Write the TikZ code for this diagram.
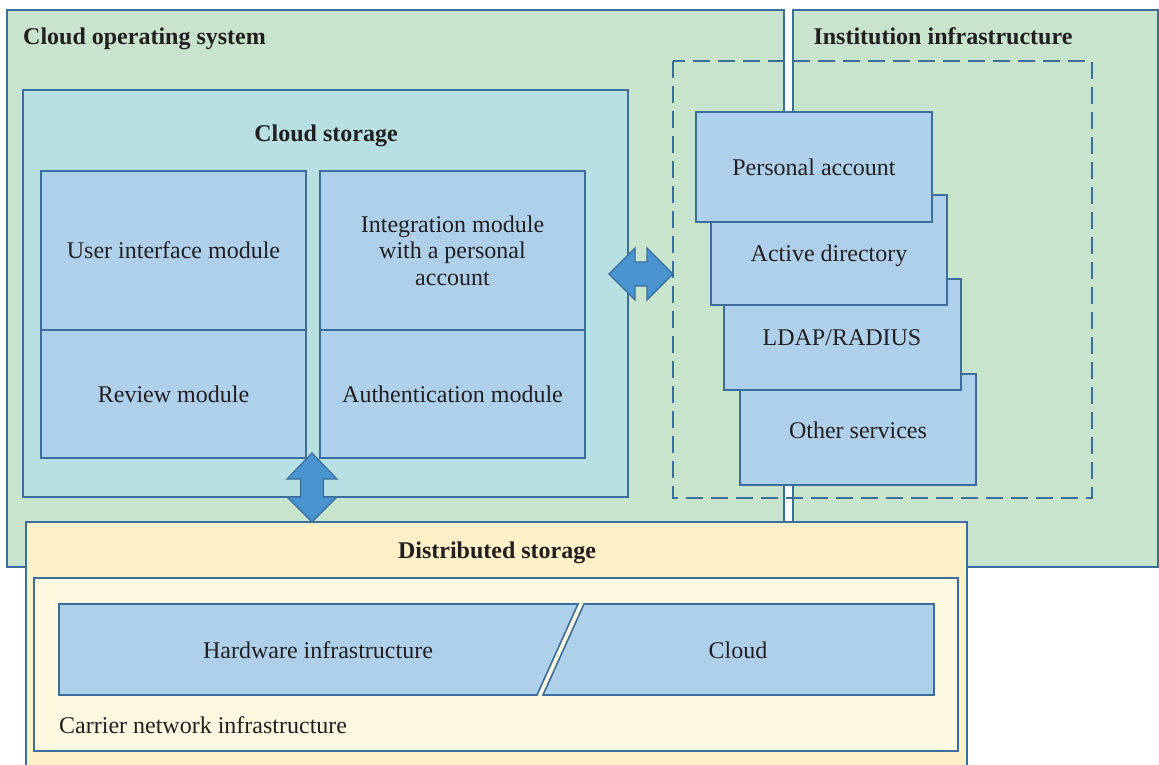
\documentclass[tikz,border=0pt]{standalone}
\usepackage{fontspec}
\setmainfont{Liberation Serif}
\definecolor{bordc}{HTML}{3B6E9C}
\definecolor{greenc}{HTML}{C9E4CD}
\definecolor{cyanc}{HTML}{B8E0E2}
\definecolor{bluec}{HTML}{AFD0EB}
\definecolor{arrc}{HTML}{4A94CF}
\definecolor{yelc}{HTML}{FDF0C6}
\definecolor{creamc}{HTML}{FEF8E1}
\definecolor{txtc}{HTML}{231F20}
\begin{document}
\begin{tikzpicture}[x=1pt,y=-1pt,
  box/.style={draw=bordc, line width=1.6pt, outer sep=0pt, inner sep=0pt, anchor=north west},
  txt/.style={text=txtc, font=\fontsize{24}{26.5}\selectfont, align=center, inner sep=0pt},
  ttl/.style={text=txtc, font=\fontsize{24}{26.5}\selectfont\bfseries, inner sep=0pt},
  dbl/.style={draw=bordc, fill=arrc, line width=1.2pt, line join=miter}]
\useasboundingbox (0,0) rectangle (1159,765);
\clip (0,0) rectangle (1159,765);
\fill[white] (0,0) rectangle (1159,765);
% big regions
\node[box, fill=greenc, minimum width=777pt, minimum height=557pt] (cos) at (7,10) {};
\node[box, fill=greenc, minimum width=365pt, minimum height=557pt] (inst) at (793,10) {};
\node[ttl, anchor=base west] (costitle) at (23,45) {Cloud operating system};
\node[ttl, anchor=base] (insttitle) at (943,45) {Institution infrastructure};
% cloud storage
\node[box, fill=cyanc, minimum width=605pt, minimum height=407pt] (cs) at (23,90) {};
\node[ttl] (cstitle) at (326,136) {Cloud storage};
\node[box, fill=bluec, minimum width=265pt, minimum height=159pt] (ui) at (41,171) {};
\node[box, fill=bluec, minimum width=265pt, minimum height=128pt] (rev) at (41,330) {};
\node[box, fill=bluec, minimum width=265pt, minimum height=159pt] (integ) at (320,171) {};
\node[box, fill=bluec, minimum width=265pt, minimum height=128pt] (auth) at (320,330) {};
\node[txt] at (ui.center) {User interface module};
\node[txt] at (rev.center) {Review module};
\node[txt] at (integ.center) {Integration module\\with a personal\\account};
\node[txt] at (auth.center) {Authentication module};
% institution stack
\draw[bordc, line width=1.6pt, dash pattern=on 17pt off 8pt] (673,61) rectangle (1092,498);
\node[box, fill=bluec, minimum width=236pt, minimum height=111pt] (oth) at (740,374) {};
\node[box, fill=bluec, minimum width=237pt, minimum height=111pt] (ldap) at (724,279) {};
\node[box, fill=bluec, minimum width=236pt, minimum height=110pt] (ad) at (711,195) {};
\node[box, fill=bluec, minimum width=236pt, minimum height=110pt] (pa) at (696,112) {};
\node[txt] at (814,167) {Personal account};
\node[txt] at (829,256) {Active directory};
\node[txt] at (842,338) {LDAP/RADIUS};
\node[txt] at (858,430) {Other services};
% distributed storage
\node[box, fill=yelc, minimum width=941pt, minimum height=260pt] (ds) at (26,522) {};
\node[ttl] (dstitle) at (497,553) {Distributed storage};
\node[box, fill=creamc, minimum width=924pt, minimum height=173pt] (cn) at (34,578) {};
\draw[bordc, fill=bluec, line width=1.6pt] (59,604) -- (578,604) -- (537,695) -- (59,695) -- cycle;
\draw[bordc, fill=bluec, line width=1.6pt] (584,604) -- (934,604) -- (934,695) -- (543,695) -- cycle;
\node[txt] (hw) at (318,650) {Hardware infrastructure};
\node[txt] (cl) at (738,650) {Cloud};
\node[txt, anchor=west] (cni) at (59,725) {Carrier network infrastructure};
% double arrows
\draw[dbl] (312,453) -- (337,479) -- (323.5,479) -- (323.5,497) -- (337,497) -- (312,522)
  -- (287,497) -- (300.5,497) -- (300.5,479) -- (287,479) -- cycle;
\draw[dbl] (609,274) -- (635,248) -- (635,262) -- (647,262) -- (647,248) -- (673,274)
  -- (647,300) -- (647,286) -- (635,286) -- (635,300) -- cycle;
\end{tikzpicture}
\end{document}
